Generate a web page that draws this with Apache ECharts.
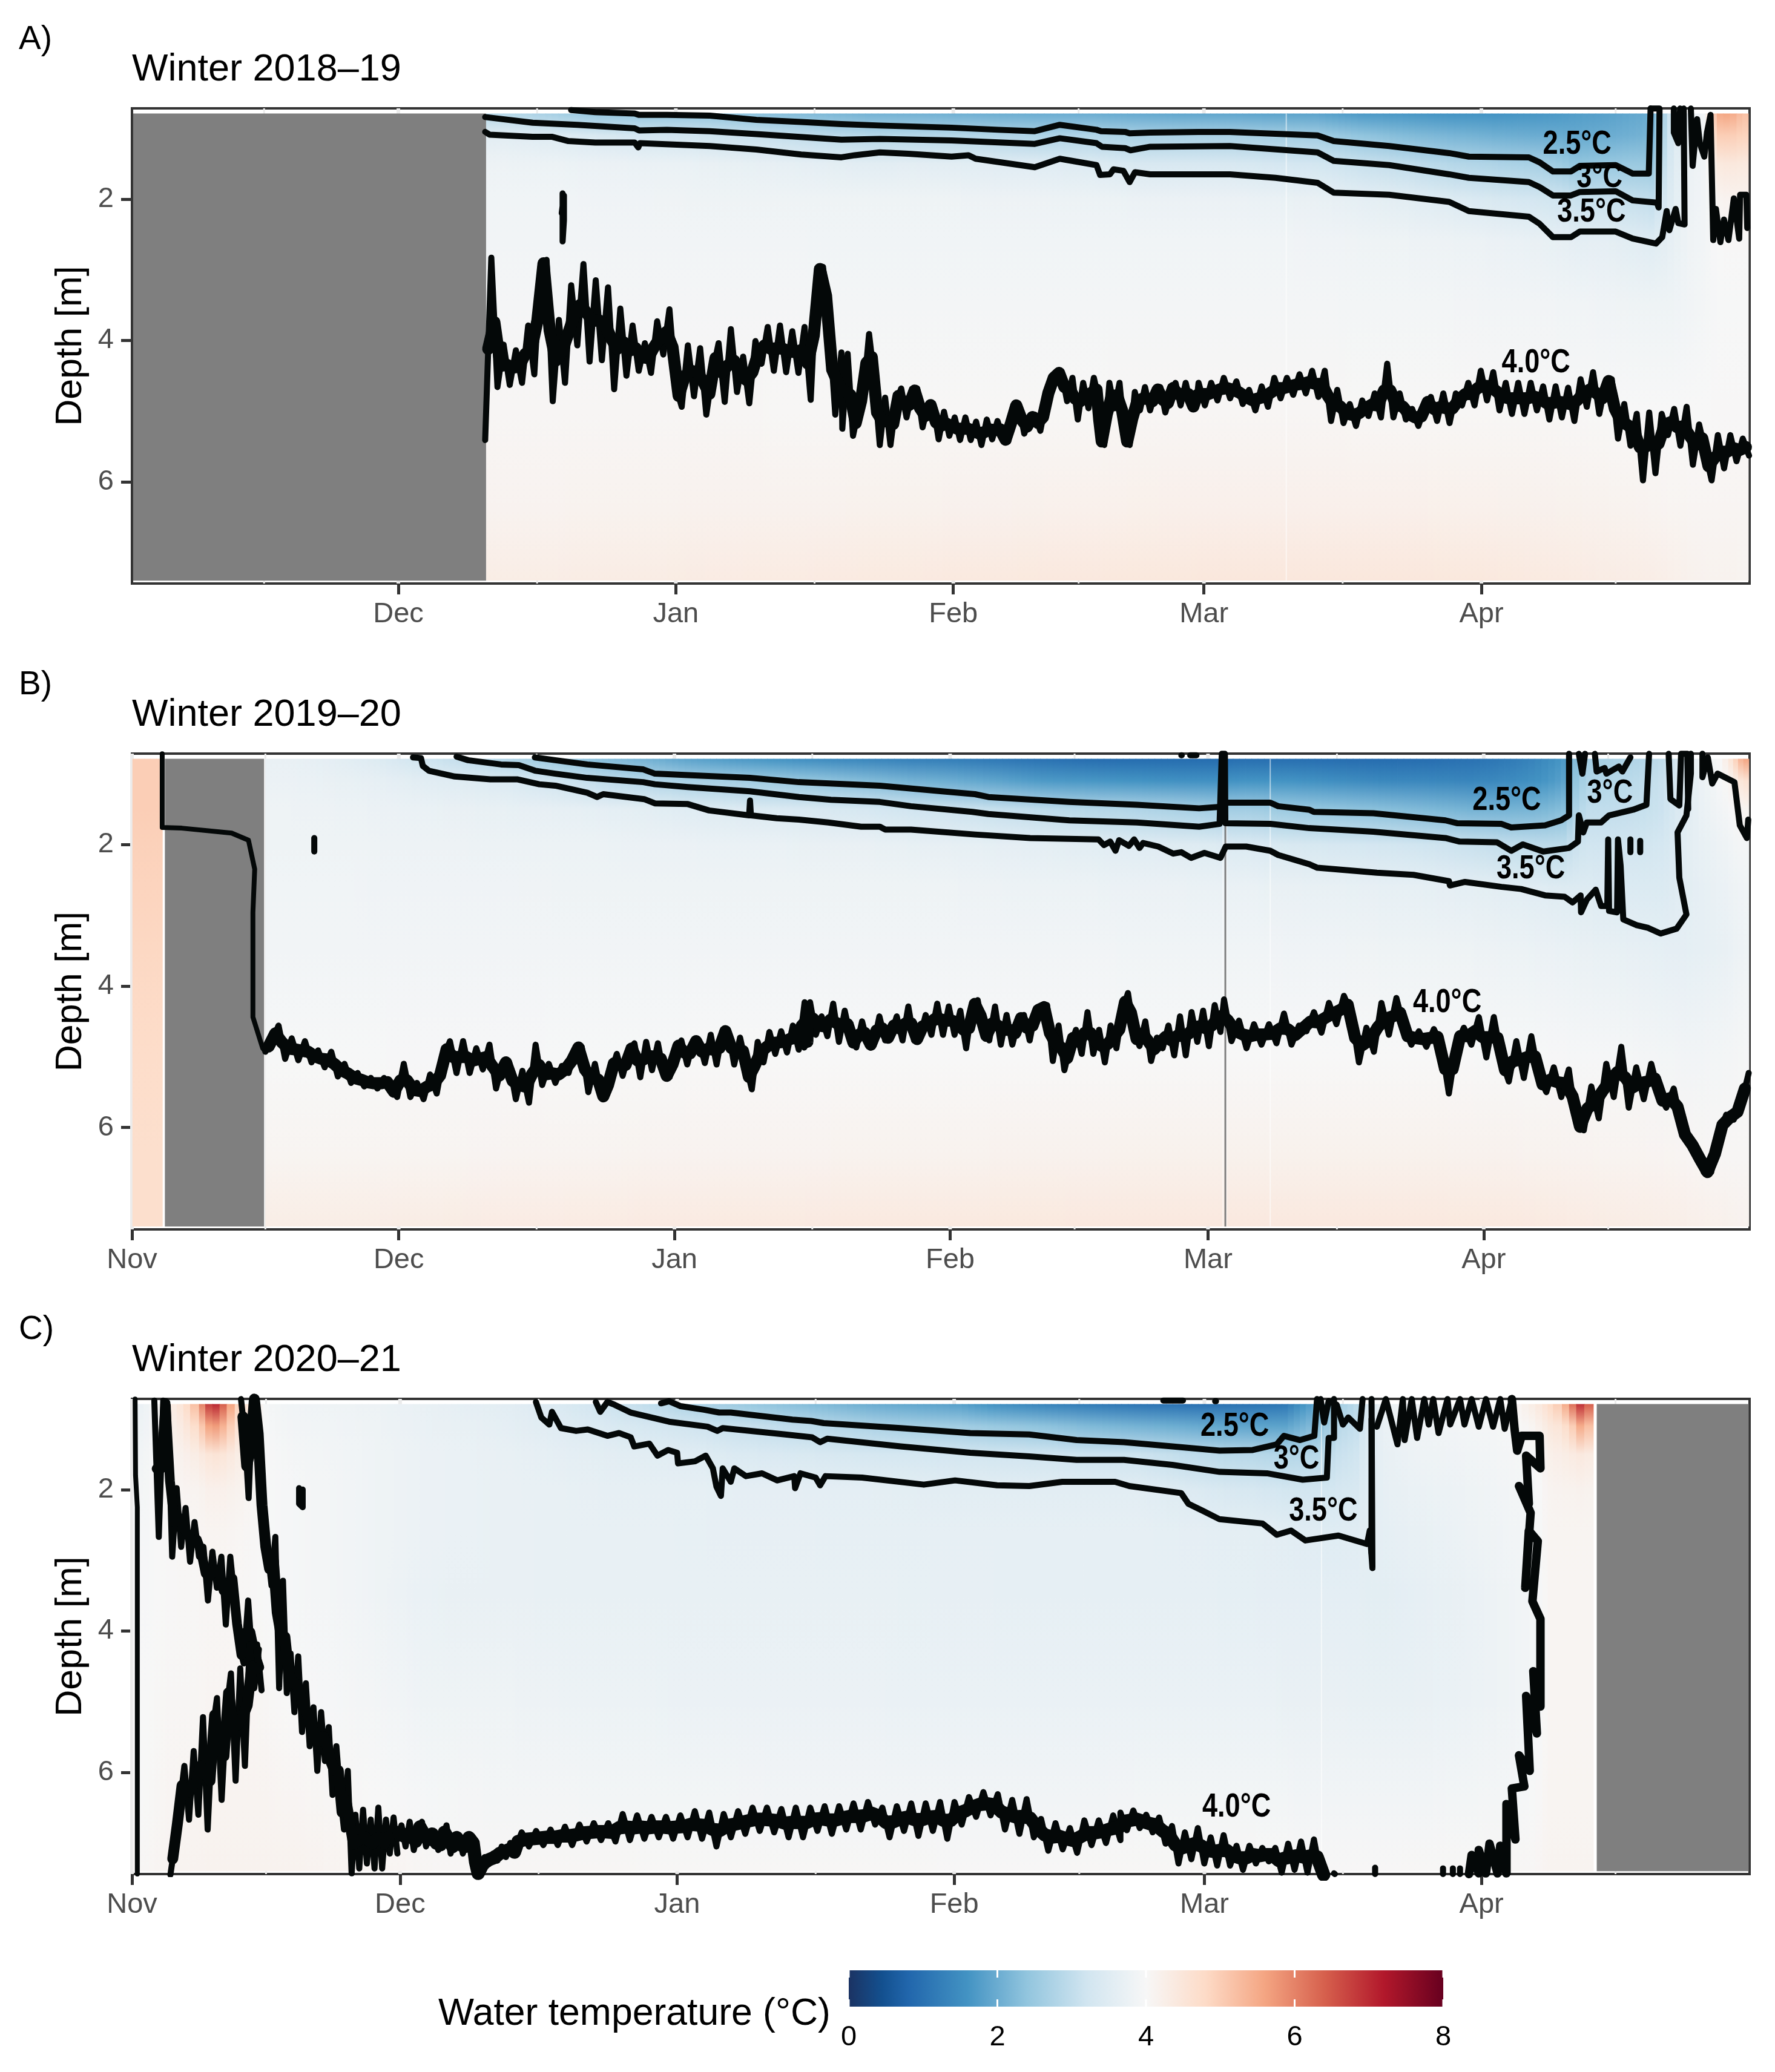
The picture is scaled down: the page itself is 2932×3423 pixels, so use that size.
<!DOCTYPE html>
<html><head><meta charset="utf-8">
<style>html,body{margin:0;padding:0;background:#fff}#c{width:2932px;height:3423px}</style>
<script src="https://cdn.jsdelivr.net/npm/echarts@6/dist/echarts.min.js"></script>
</head><body><div id="c"></div>
<script>
// ---------- colour scale ----------
const scaleValues=[0,0.45,0.8,1.6,2.4,3.2,4,4.8,5.6,6.4,7.2,8];
const scaleColors=['#1b3363','#13508f','#2166ac','#4393c3','#92c5de','#d1e5f0','#f7f7f7','#fddbc7','#f4a582','#d6604d','#b2182b','#67001f'];
const legendTicks=[0,2,4,6,8];
// ---------- axes ----------
const monthNames=['Nov','Dec','Jan','Feb','Mar','Apr'];
const depthTicks=[2,4,6];
const A_months=[30,61,92,120,151], B_months=[0,30,61,92,121,152], C_months=[0,30,61,92,120,151];
const minorDays=[15,45.5,76.5,106,135.5,166];
const depthStops=[0.79,1.1,1.5,2.0,2.6,3.5,5,6.4,7.4];
// ---------- temperature columns (start day of each column; last entry is the end) ----------
const A_days=[39.8,45,50,55,60,65,70,75,80,85,90,95,100,105,110,115,120,125,130,135,140,145,150,155,160,163,166,169,171,172.5,174,175.5,176.6,178,179.5,180.8];
const A_temps=[
[2.85,3.55,3.78,3.85,3.88,3.93,4.05,4.14,4.3],[2.65,3.45,3.76,3.85,3.88,3.93,4.05,4.14,4.3],[2.45,3.35,3.75,3.84,3.88,3.93,4.05,4.15,4.32],[2.45,3.25,3.73,3.83,3.88,3.93,4.05,4.15,4.32],
[2.45,3.2,3.72,3.82,3.87,3.93,4.05,4.16,4.33],[2.38,3.12,3.68,3.82,3.87,3.93,4.05,4.16,4.34],[2.3,3.05,3.65,3.82,3.87,3.93,4.04,4.17,4.35],[2.2,2.95,3.6,3.81,3.86,3.93,4.04,4.17,4.36],
[2.1,2.85,3.55,3.8,3.86,3.92,4.04,4.18,4.38],[2.08,2.85,3.58,3.8,3.86,3.92,4.04,4.18,4.38],[2.05,2.85,3.55,3.8,3.86,3.92,4.04,4.19,4.4],[2.02,2.8,3.52,3.79,3.85,3.92,4.04,4.19,4.4],
[2.0,2.75,3.5,3.78,3.85,3.92,4.04,4.2,4.42],[2.0,2.8,3.45,3.77,3.85,3.92,4.04,4.2,4.42],[1.95,2.7,3.35,3.75,3.85,3.92,4.05,4.21,4.44],[1.9,2.7,3.35,3.75,3.85,3.92,4.05,4.22,4.44],
[1.9,2.7,3.35,3.75,3.85,3.92,4.05,4.22,4.45],[1.85,2.65,3.3,3.72,3.85,3.92,4.05,4.22,4.45],[1.85,2.6,3.25,3.7,3.84,3.91,4.05,4.22,4.45],[1.7,2.4,3.1,3.62,3.82,3.9,4.04,4.22,4.45],
[1.65,2.25,3.0,3.55,3.8,3.9,4.04,4.22,4.45],[1.6,2.15,2.85,3.45,3.78,3.89,4.03,4.21,4.44],[1.6,2.05,2.75,3.35,3.75,3.88,4.03,4.2,4.42],[1.65,2.0,2.65,3.25,3.7,3.87,4.03,4.19,4.38],
[1.75,1.95,2.4,3.1,3.6,3.85,4.02,4.18,4.35],[1.8,2.0,2.45,3.1,3.62,3.84,4.01,4.16,4.32],[1.9,2.05,2.5,3.05,3.55,3.82,4.0,4.15,4.3],[2.0,2.15,2.5,3.0,3.5,3.8,4.0,4.12,4.28],
[3.0,3.1,3.25,3.4,3.6,3.8,4.0,4.1,4.25],[3.6,3.6,3.65,3.7,3.75,3.85,4.0,4.1,4.2],[3.8,3.8,3.8,3.82,3.85,3.88,4.0,4.08,4.18],[3.92,3.9,3.88,3.88,3.88,3.92,4.0,4.08,4.15],
[5.5,5.0,4.4,4.1,4.0,3.98,4.02,4.08,4.15],[5.6,5.0,4.45,4.15,4.02,3.98,4.02,4.08,4.15],[5.2,4.9,4.4,4.15,4.02,3.98,4.02,4.08,4.12]];
const B_days=[0.05,3.4,15,20,25,30,35,40,45,50,55,60,65,70,75,80,85,90,95,100,105,110,115,120,123.1,128,133,138,143,148,153,157,160,162,165,168,171,173.5,175.5,177.5,179.5,180.6,181.8];
const B_temps=[
[5.0,5.0,5.0,4.95,4.9,4.85,4.75,4.7,4.7],null,[3.7,3.75,3.8,3.82,3.85,3.88,3.98,4.1,4.3],[3.6,3.7,3.78,3.82,3.85,3.88,3.98,4.1,4.3],[3.45,3.65,3.75,3.8,3.84,3.88,3.98,4.1,4.3],
[3.2,3.55,3.72,3.78,3.83,3.87,3.97,4.1,4.32],[3.0,3.48,3.7,3.78,3.83,3.87,3.97,4.1,4.33],[2.75,3.4,3.67,3.77,3.83,3.87,3.97,4.11,4.34],[2.5,3.2,3.65,3.77,3.82,3.87,3.98,4.12,4.34],
[2.3,3.0,3.62,3.76,3.82,3.87,3.98,4.12,4.35],[2.1,2.85,3.58,3.75,3.82,3.87,3.98,4.13,4.36],[1.85,2.7,3.5,3.74,3.82,3.88,3.99,4.13,4.37],[1.7,2.65,3.45,3.72,3.82,3.88,3.99,4.14,4.38],
[1.6,2.55,3.4,3.72,3.82,3.88,3.99,4.14,4.38],[1.45,2.4,3.35,3.7,3.81,3.88,4.0,4.14,4.39],[1.35,2.25,3.3,3.7,3.81,3.88,4.0,4.15,4.4],[1.25,2.1,3.2,3.67,3.8,3.88,4.0,4.15,4.4],
[1.2,2.0,3.15,3.65,3.8,3.88,4.0,4.15,4.4],[1.1,1.85,3.05,3.62,3.78,3.87,4.0,4.16,4.41],[1.0,1.7,2.95,3.6,3.77,3.87,4.0,4.17,4.41],[0.92,1.65,2.85,3.55,3.76,3.87,4.0,4.17,4.42],
[0.9,1.6,2.8,3.5,3.75,3.86,4.0,4.18,4.42],[0.9,1.55,2.7,3.48,3.74,3.86,4.0,4.18,4.42],[0.9,1.55,2.6,3.45,3.72,3.86,4.0,4.18,4.42],[0.95,1.6,2.6,3.4,3.72,3.85,4.0,4.18,4.42],
[0.95,1.6,2.5,3.35,3.7,3.84,4.0,4.18,4.42],[0.92,1.5,2.4,3.3,3.68,3.83,4.0,4.18,4.42],[0.9,1.4,2.3,3.25,3.65,3.82,4.0,4.18,4.42],[0.92,1.38,2.2,3.18,3.63,3.81,4.0,4.18,4.42],
[1.0,1.35,2.1,3.1,3.6,3.8,3.99,4.17,4.41],[1.15,1.45,2.1,3.0,3.55,3.77,3.98,4.16,4.4],[1.4,1.6,2.15,2.95,3.5,3.75,3.98,4.15,4.38],[1.7,1.85,2.3,2.95,3.45,3.73,3.97,4.14,4.36],
[2.6,2.75,3.0,3.2,3.45,3.7,3.96,4.13,4.34],[2.7,2.85,3.0,3.2,3.42,3.68,3.95,4.12,4.32],[2.8,2.95,3.05,3.22,3.42,3.65,3.93,4.11,4.3],[3.0,3.1,3.15,3.3,3.42,3.62,3.9,4.1,4.28],
[3.5,3.5,3.5,3.55,3.55,3.62,3.88,4.08,4.25],[3.8,3.75,3.72,3.68,3.65,3.65,3.88,4.06,4.22],[4.0,3.95,3.88,3.78,3.72,3.68,3.9,4.05,4.2],[4.7,4.2,4.0,3.88,3.8,3.75,3.92,4.05,4.18],[5.6,4.6,4.1,3.92,3.85,3.8,3.95,4.05,4.15]];
const C_days=[0.1,2.5,5,6.5,7.5,8.2,9,9.8,10.6,11.5,12.5,14,16,20,25,30,35,40,45,50,55,60,65,70,75,80,85,90,95,100,105,110,115,120,125,128,130,132,134,136,138,142,147,152,155.5,157.8,159,160,160.8,161.6,162.5,163.5];
const C_temps=[
[3.75,3.8,3.88,3.92,3.95,3.97,3.99,4.0,4.05],[4.2,4.15,4.1,4.05,4.03,4.02,4.05,4.08,4.1],[4.6,4.4,4.2,4.1,4.05,4.03,4.05,4.1,4.12],[5.2,4.7,4.3,4.12,4.06,4.04,4.06,4.1,4.13],[6.0,5.1,4.4,4.15,4.08,4.05,4.07,4.11,4.14],
[6.8,5.6,4.5,4.2,4.1,4.05,4.08,4.12,4.15],[7.0,5.7,4.55,4.2,4.1,4.05,4.08,4.12,4.15],[6.4,5.4,4.5,4.2,4.1,4.05,4.08,4.12,4.15],[5.6,5.0,4.4,4.18,4.09,4.05,4.08,4.12,4.15],[4.9,4.6,4.3,4.15,4.07,4.04,4.08,4.12,4.15],
[4.4,4.3,4.15,4.08,4.05,4.03,4.08,4.12,4.15],[3.95,3.98,4.0,4.0,4.0,4.0,4.05,4.12,4.15],[3.85,3.88,3.92,3.95,3.95,3.95,4.0,4.08,4.15],[3.82,3.85,3.88,3.9,3.9,3.9,3.95,4.05,4.12],[3.78,3.8,3.82,3.82,3.82,3.82,3.9,4.0,4.1],
[3.7,3.72,3.75,3.75,3.75,3.72,3.82,3.95,4.06],[3.62,3.68,3.72,3.72,3.72,3.7,3.8,3.93,4.05],[3.55,3.6,3.68,3.7,3.7,3.7,3.8,3.92,4.05],[3.4,3.5,3.62,3.68,3.69,3.69,3.78,3.91,4.05],[3.2,3.4,3.58,3.65,3.68,3.68,3.76,3.9,4.05],
[3.0,3.3,3.55,3.65,3.68,3.68,3.76,3.9,4.04],[2.75,3.2,3.52,3.64,3.67,3.68,3.75,3.89,4.04],[2.55,3.1,3.42,3.62,3.66,3.68,3.75,3.89,4.03],[2.35,3.0,3.38,3.62,3.66,3.68,3.75,3.88,4.03],[2.2,2.9,3.35,3.6,3.65,3.68,3.74,3.88,4.03],
[2.0,2.75,3.3,3.6,3.65,3.68,3.74,3.88,4.03],[1.9,2.65,3.28,3.58,3.65,3.67,3.73,3.88,4.03],[1.8,2.6,3.25,3.55,3.65,3.66,3.72,3.88,4.02],[1.5,2.45,3.22,3.55,3.65,3.65,3.72,3.88,4.02],[1.3,2.35,3.2,3.55,3.65,3.65,3.72,3.88,4.02],
[1.15,2.2,3.15,3.55,3.65,3.65,3.72,3.88,4.03],[1.05,2.1,3.15,3.55,3.64,3.65,3.72,3.89,4.04],[1.0,2.0,3.0,3.45,3.62,3.64,3.72,3.89,4.04],[1.0,1.9,2.9,3.35,3.6,3.63,3.72,3.9,4.05],[1.05,1.85,2.85,3.3,3.58,3.62,3.72,3.9,4.04],
[1.1,1.85,2.8,3.25,3.55,3.62,3.71,3.89,4.03],[1.6,2.1,2.85,3.22,3.52,3.61,3.7,3.88,4.02],[2.0,2.35,2.9,3.22,3.5,3.6,3.7,3.88,4.02],[2.6,2.9,3.1,3.3,3.5,3.6,3.7,3.88,4.02],[2.9,3.05,3.2,3.35,3.52,3.6,3.69,3.88,4.02],
[3.75,3.72,3.68,3.65,3.62,3.58,3.68,3.88,4.02],[3.85,3.83,3.8,3.75,3.7,3.65,3.7,3.88,4.03],[3.92,3.9,3.85,3.8,3.78,3.72,3.75,3.9,4.04],[3.98,3.95,3.92,3.88,3.85,3.82,3.82,3.92,4.05],[4.3,4.1,3.96,3.94,3.92,3.9,3.9,3.98,4.05],
[4.7,4.4,4.2,4.12,4.1,4.08,4.08,4.1,4.12],[5.0,4.5,4.25,4.14,4.1,4.08,4.08,4.1,4.12],[5.5,4.7,4.3,4.15,4.1,4.08,4.08,4.1,4.12],[6.2,5.0,4.35,4.15,4.1,4.08,4.08,4.1,4.12],[6.9,5.5,4.4,4.16,4.1,4.08,4.08,4.1,4.12],[6.4,5.2,4.35,4.15,4.1,4.08,4.08,4.1,4.12]];
// ---------- gaps in the record ----------
const A_missing=[[0.37,39.8]], B_missing=[[3.7,14.85],[122.85,123.05]], C_missing=[[163.9,180.9]];
const A_white=[129.2], B_white=[128.0,122.7,123.1], C_white=[133.1,163.7];
// ---------- panel A isotherms ----------
const A_25=[[49.3,0.74],[52,0.77],[56.4,0.79],[56.9,0.81],[60,0.81],[64.8,0.82],[70,0.88],[75,0.91],[79.5,0.94],[83.8,0.96],[91.8,0.99],[97,1.02],[101.1,1.04],[103.9,0.95],[108,1.02],[108.5,1.04],[111.2,1.05],[111.7,1.07],[114,1.06],[119.4,1.05],[122.9,1.05],[132.7,1.10],[134.5,1.18],[140.7,1.25],[147.4,1.35],[149.6,1.40],[156.3,1.41],[157.5,1.48],[159,1.61],[161,1.61],[162,1.53],[166,1.52],[167.9,1.64],[169.7,1.64],[169.9,0.72]];
const A_30=[[39.7,0.84],[45,0.92],[50,0.95],[56.4,1.0],[56.9,1.03],[60,1.02],[64.8,1.04],[70,1.08],[79.5,1.16],[83.8,1.15],[91.8,1.17],[101.1,1.22],[103.9,1.14],[108,1.21],[108.6,1.26],[111.2,1.28],[111.8,1.31],[114,1.26],[122.9,1.25],[132.7,1.34],[134.5,1.46],[140.7,1.52],[147.4,1.65],[149.6,1.70],[156.3,1.76],[157.5,1.83],[159,1.95],[161,1.95],[162,1.90],[166,1.89],[167.9,2.02],[170.6,2.05],[170.8,2.12],[170.9,0.72],[169.9,0.72]];
const A_35=[[39.7,1.05],[40.2,1.09],[45,1.12],[47.2,1.12],[49,1.18],[52,1.2],[56.4,1.2],[56.8,1.27],[57,1.21],[64.8,1.25],[70,1.3],[75,1.37],[79.5,1.41],[81,1.38],[83.8,1.34],[87,1.36],[91.8,1.4],[93.7,1.38],[94.5,1.43],[101.1,1.55],[103.9,1.43],[108,1.52],[108.4,1.66],[109.5,1.65],[109.9,1.58],[111,1.6],[111.7,1.76],[112.3,1.62],[114,1.65],[122.9,1.65],[128,1.7],[132.7,1.77],[134.5,1.91],[140.7,1.94],[147.4,2.04],[149.6,2.17],[156.3,2.25],[157.5,2.35],[159,2.54],[161,2.54],[162,2.46],[166,2.46],[167.9,2.56],[170.5,2.63],[171.2,2.54],[171.7,2.17],[172,2.44],[172.7,2.14],[173,2.34],[173.7,2.36],[173.6,0.72]];
const A_top1=[[172.5,0.72],[172.5,1.06],[173,1.21],[173.2,0.72]];
const A_top2=[[174.4,0.72],[174.6,1.53],[175.1,0.87],[175.4,1.21],[175.9,1.4],[176.2,1.06],[176.6,0.81],[176.9,2.58],[177.2,2.14],[177.7,2.61],[178.1,2.29],[178.6,2.58],[179.2,1.99],[179.8,2.56],[179.9,1.94],[180.6,1.94],[180.7,2.41]];
const A_mark1=[[48.35,1.92],[48.35,2.6],[48.5,2.3],[48.5,1.95],[48.25,2.2]];
const A_mark2=[[60.5,2.06],[60.52,2.06]];
const A_40_runs=[
[39.7,79.5,[5.41,2.83,4.66,4.06,4.63,4.14,4.60,3.79,4.48,2.96,2.86,4.86,3.71,4.60,3.22,4.07,2.92,4.30,3.15,4.28,3.25,4.69,3.55,4.50,3.79,4.43,4.04,4.46,3.73,4.20,3.56,4.63,4.94,4.07,4.79,4.11,5.05,4.46,4.04,4.87,3.84,4.73,4.23,4.89,4.01,4.33,3.81,4.43,3.79,4.45,3.87,4.46,3.81,4.84,3.02,2.96,3.78,5.05,4.17]],
[79.6,108.3,[5.25,4.19,5.35,4.99,4.73,3.91,4.56,5.48,4.81,5.48,4.89,4.68,5.09,4.74,4.68,5.23,4.91,4.92,5.40,5.01,5.35,5.09,5.41,5.09,5.41,5.15,5.48,5.12,5.40,5.14,5.38,5.43,4.92,4.92,5.32,5.12,5.05,5.28,4.89,4.60,4.46,4.46,4.86,4.53,5.12,4.60,4.96,4.53,4.86]],
[108.3,119.1,[5.38,5.48,4.60,4.96,4.60,5.38,5.48,4.73,4.99,4.66,4.99,4.73,4.66,5.02,4.75,4.60,4.92,4.60,4.92,4.95]],
[119.4,133.5,[4.60,4.92,4.60,4.85,4.53,4.82,4.58,4.90,4.70,4.99,4.65,4.94,4.53,4.82,4.53,4.77,4.48,4.75,4.43,4.80,4.43]],
[134.2,180.9,[5.14,4.70,5.17,4.90,5.21,4.85,5.07,4.75,5.09,4.33,5.09,4.75,5.12,4.97,5.21,4.94,4.80,5.14,4.75,5.17,4.75,4.92,4.60,4.92,4.43,4.85,4.45,4.99,4.60,5.04,4.60,5.04,4.60,4.99,4.65,5.12,4.65,5.09,4.67,5.14,4.55,4.94,4.45,5.04,4.60,4.55,5.39,4.90,5.49,5.04,5.98,5.02,5.88,5.04,5.34,4.97,5.49,4.94,5.76,5.19,5.58,5.98,5.34,5.81,5.34,5.71,5.39,5.63]]];
// ---------- panel B isotherms ----------
const B_25=[[45.3,0.77],[47.6,0.81],[51.2,0.87],[57.5,0.94],[58.8,1.0],[62.5,1.02],[69.5,1.06],[75,1.12],[84.1,1.17],[91.1,1.25],[94.8,1.29],[96.3,1.33],[105.4,1.40],[113,1.44],[120,1.49],[122.3,1.47],[123,1.41],[128,1.41],[128.9,1.46],[132.4,1.51],[132.9,1.54],[139.6,1.56],[147.7,1.66],[149,1.70],[154,1.71],[155.1,1.76],[158.9,1.73],[160.7,1.66],[161.6,1.59],[161.6,0.72]];
const B_30=[[36.5,0.76],[37.8,0.81],[41.5,0.87],[43.5,0.88],[45.4,0.96],[47.6,1.0],[51.2,1.06],[57.5,1.12],[58.8,1.15],[62.5,1.19],[69.5,1.25],[75,1.33],[78.6,1.37],[84.1,1.40],[87.6,1.46],[94.5,1.54],[96.3,1.57],[105.4,1.66],[113,1.69],[120,1.75],[122.3,1.71],[122.55,0.72],[122.9,0.72],[122.95,1.70],[128,1.71],[132.4,1.77],[139.6,1.82],[147.7,1.91],[149.3,1.96],[153.5,1.97],[155.1,2.09],[156.4,2.0],[158.7,2.1],[161.6,2.05],[162.6,1.96],[162.7,1.59],[163.2,1.83],[163.6,1.69],[165.2,1.69],[166.1,1.59],[168.8,1.51],[170.3,1.44],[170.6,0.72]];
const B_35=[[31.6,0.77],[32.5,0.78],[32.7,0.89],[33.4,0.96],[36.3,1.04],[40.3,1.08],[43.3,1.08],[45.8,1.15],[47.6,1.17],[51.2,1.27],[52.3,1.33],[53,1.29],[57.6,1.36],[58.8,1.42],[62.5,1.43],[64.9,1.52],[69.4,1.59],[69.5,1.38],[69.6,1.59],[72.5,1.63],[75,1.65],[78.3,1.69],[82,1.75],[84.1,1.75],[84.7,1.79],[87.6,1.79],[94.8,1.86],[101,1.91],[108.7,1.93],[109.3,2.01],[110,1.96],[110.6,2.09],[111,1.94],[112.1,2.02],[112.7,1.93],[113.3,2.05],[113.7,1.98],[115.4,2.03],[117.1,2.13],[118,2.11],[119.1,2.19],[120.6,2.12],[122.4,2.19],[123,2.03],[125.3,2.03],[128,2.09],[128.9,2.15],[132.4,2.28],[133.3,2.33],[140,2.40],[144.1,2.43],[148.1,2.52],[148.2,2.58],[149.9,2.53],[154,2.6],[156.2,2.63],[158.9,2.72],[161.1,2.74],[162,2.82],[162.9,2.72],[162.95,2.96],[163.6,2.78],[164.6,2.64],[165.2,2.87],[165.9,2.87],[166,1.93],[166.1,2.94],[167,2.96],[167.1,1.93],[167.4,2.3],[167.7,3.06],[169.2,3.14],[170.5,3.18],[171.9,3.26],[173.7,3.19],[174.8,2.99],[174,2.47],[173.8,1.83],[174.8,1.59],[175.3,1.0],[175.3,0.72]];
const B_up=[[3.4,0.72],[3.4,1.76],[5.6,1.77],[11.2,1.84],[13.1,1.94],[13.8,2.35],[13.6,2.96],[13.6,4.44],[14.7,4.88],[15,4.93]];
const B_top1=[[162.7,0.72],[163.1,1.0],[163.4,0.72]];
const B_top2=[[164.5,0.72],[164.7,0.97],[165.6,0.92],[165.8,1.0],[167.2,0.9],[167.6,0.97],[168.5,0.77]];
const B_top3=[[172.8,0.72],[173,1.36],[174,1.45],[174.2,0.72],[174.9,0.72],[175,1.5]];
const B_top4=[[176.6,0.72],[176.6,1.05],[177.2,0.77],[177.7,1.14],[178.3,1.0],[180.2,1.12],[180.8,1.73],[181.6,1.91],[181.75,1.65]];
const B_mark1=[[20.5,1.91],[20.5,2.1]], B_mark2=[[168.5,1.93],[168.5,2.11]], B_mark3=[[169.6,1.95],[169.6,2.11]];
const B_dots=[[118,0.74],[118.05,0.74],[NaN,NaN],[119,0.74],[119.7,0.74],[NaN,NaN]];
const B_40_runs=[
[15,52.8,[4.93,4.78,4.56,5.03,4.74,5.05,4.78,5.08,4.91,5.15,4.93,5.28,5.10,5.37,5.23,5.42,5.30,5.45,5.30,5.42,5.57,5.10,5.57,5.37,5.60,5.25,5.52,5.01,4.78,5.23,4.78,5.23,4.88,5.18,4.83,5.45,5.08,5.08,5.60,5.20,5.65,4.83,5.40,5.10,5.37,5.13,5.23,4.88,4.86,5.50,5.10,5.55]],
[53.2,76.3,[5.57,5.23,4.96,5.27,4.96,4.81,5.29,4.79,5.19,4.81,5.25,5.29,4.92,4.77,5.11,4.79,4.77,5.09,4.69,5.11,4.64,4.64,5.11,4.73,5.11,5.46,4.79,5.08,4.65,4.96,4.64,4.94,4.56,4.90,4.23,4.71]],
[75.6,122.4,[4.87,4.23,4.69,4.43,4.71,4.25,4.79,4.35,4.73,4.87,4.50,4.83,4.83,4.43,4.77,4.69,4.43,4.77,4.29,4.77,4.73,4.41,4.69,4.25,4.69,4.29,4.69,4.35,4.88,4.31,4.20,4.64,4.77,4.29,4.83,4.41,4.83,4.50,4.41,4.77,4.35,4.33,4.27,5.06,4.56,5.19,4.85,4.62,4.96,4.37,4.96,4.62,5.08,4.56,4.88,4.35,4.10,4.65,4.85,4.50,5.06,4.73,4.88,4.56,4.98,4.43,4.98,4.37,4.79,4.35,4.85,4.27,4.65]],
[122.8,181.8,[4.19,4.78,4.49,4.88,4.54,4.83,4.54,4.81,4.39,4.83,4.56,4.64,4.37,4.66,4.24,4.54,4.14,4.39,5.08,4.59,4.93,4.24,4.69,4.17,4.59,4.83,4.64,4.86,4.61,4.83,5.52,4.83,4.59,4.83,4.44,5.01,4.44,5.03,5.35,4.78,5.30,4.71,5.28,5.50,5.15,5.57,5.18,5.94,6.04,5.42,5.87,5.10,5.57,4.86,5.72,5.15,5.60,5.10,5.52,5.72,5.45,5.96,6.24,6.26,6.63,6.63,6.11,5.82,5.89,5.67,5.23]]];
// ---------- panel C isotherms ----------
const C_25=[[59.2,0.78],[60.1,0.75],[61.4,0.82],[64,0.87],[65.7,0.91],[67,0.91],[73.9,1.01],[76,1.03],[77.4,1.06],[86,1.13],[93.8,1.2],[100.4,1.22],[105.7,1.30],[111,1.33],[116.4,1.39],[121.7,1.45],[125.4,1.44],[128.1,1.36],[128.9,1.24],[130.7,1.3],[132.3,1.24],[132.6,0.72]];
const C_25b=[[133,0.72],[133.4,1.05],[133.9,0.75],[134.8,0.8],[135.5,1.08],[136.1,0.98],[137.4,1.14],[137.7,0.72]];
const C_30=[[51.9,0.76],[52.4,0.9],[53.2,0.76],[54,0.8],[55.8,0.91],[60.1,1.04],[64.4,1.11],[65.5,1.17],[66.1,1.13],[73.1,1.22],[76.1,1.26],[77,1.33],[77.8,1.28],[86,1.39],[93.8,1.48],[100.4,1.53],[105.7,1.58],[111,1.58],[116.4,1.65],[121.7,1.75],[127,1.77],[131,1.86],[133.7,1.83],[133.9,1.27],[134.5,1.27],[134.5,0.72]];
const C_35=[[45.2,0.76],[45.8,0.98],[46.7,1.08],[47,0.9],[48,1.13],[49.7,1.17],[51,1.15],[53.2,1.24],[54.5,1.2],[55.8,1.26],[56.2,1.39],[57.9,1.35],[58.8,1.52],[60,1.44],[61,1.48],[61.1,1.63],[63,1.6],[64.2,1.52],[65,1.7],[65.4,1.96],[65.9,2.09],[66.1,1.70],[67,1.89],[67.4,1.70],[68.7,1.81],[70.5,1.77],[72.2,1.87],[74.1,1.81],[74.2,1.98],[74.8,1.77],[76.5,1.83],[77,1.94],[77.6,1.81],[81.7,1.83],[88.6,1.93],[92.1,1.87],[96.8,1.94],[100.4,1.95],[104.1,1.89],[110,1.89],[111.6,1.95],[117.4,2.05],[118.2,2.2],[119.8,2.3],[121.7,2.42],[126.5,2.48],[128.1,2.64],[129.7,2.58],[131.3,2.72],[135,2.65],[138.2,2.77],[138.5,2.58],[138.8,3.11],[138.7,0.72]];
const C_edge=[[0.35,0.72],[0.4,1.8],[0.6,2.25],[0.6,7.44]];
const C_comb=[[139.3,1.11],[140.3,0.72],[141.6,1.36],[142.2,0.72],[142.4,1.3],[143.2,0.72],[143.8,1.27],[144.6,0.72],[145.1,1.08],[145.6,0.72],[146.2,1.2],[147.2,0.72],[147.5,1.08],[148.6,0.72],[149.1,1.08],[149.9,0.72],[150.7,1.11],[151.5,0.72],[152.3,1.11],[153.1,0.72],[153.6,1.14],[154.4,0.72]];
const C_right=[[154.4,0.72],[154.7,1.14],[155,1.45],[155.5,1.24],[157.5,1.24],[157.6,1.70],[156,1.52],[156.3,2.2],[155.2,1.95],[156.5,2.33],[155.9,3.39],[156.3,2.58],[157.3,2.73],[156.7,3.58],[157.6,3.83],[157.6,5.07],[156.8,4.57],[157.2,5.45],[156,4.92],[156.4,5.98],[155.2,5.76],[155.8,6.2],[154.4,6.23],[154.8,6.95],[153.8,6.45],[153.8,7.43],[153.1,7.04],[152.8,7.43],[151.9,7.01],[151.5,7.43],[150.7,7.1],[150.7,7.43],[149.9,7.17],[149.6,7.44]];
const C_stubs=[[134.5,7.43],[134.6,7.44],[NaN,NaN],[139.1,7.35],[139.1,7.44],[NaN,NaN],[146.7,7.36],[146.7,7.44],[NaN,NaN],[147.8,7.36],[147.8,7.44],[NaN,NaN],[148.6,7.36],[148.6,7.44]];
const C_cut=[[138.7,1.0],[138.7,2.9]];
const C_mark=[[18.7,1.98],[18.7,2.2],[19.1,2.25],[19.1,2.0]];
const C_dots=[[115.4,0.74],[117.6,0.74],[NaN,NaN],[121.2,0.75],[121.3,0.75]];
const C_40_runs=[
[2.5,14.5,[0.74,2.67,0.74,0.81,2.95,1.98,2.81,2.26,3.02,2.46,2.95,2.81,3.57,2.88,3.39,2.95,3.91,2.95,3.57,4.22,4.46,3.57,4.46,4.19,4.84]],
[4.3,14.2,[7.45,7.0,6.46,5.91,6.67,5.7,6.6,5.22,6.81,5.43,4.95,6.39,5.15,4.6,6.12,4.53,5.91,4.19,4.81,4.26]],
[12.2,29.7,[0.72,1.22,2.12,0.72,0.72,1.70,2.74,2.88,3.36,2.67,4.81,3.29,4.88,4.32,5.15,4.36,5.43,4.74,5.63,5.08,5.98,5.15,5.84,5.36,6.32,5.63,6.32,6.81,5.98,7.43,6.6,7.36,6.53,7.29,6.67,7.36,6.5,7.36,6.67,7.15,6.64,7.15]],
[29.7,38.4,[6.95,6.75,7.05,6.7,7.1,6.85,6.7,7.05,6.85,6.9,7.1,6.95,6.75,7.15,6.95,6.9,7.15,6.95,6.9,7.1]],
[38.5,42.8,[7.44,7.42,7.2,7.3,7.15,7.25,7.05,7.2,7.0,7.15]],
[42.8,110.6,[7.11,6.85,7.05,6.83,7.03,6.81,7.03,6.77,7.03,6.74,6.98,6.72,6.96,6.72,6.98,6.59,6.96,6.61,6.94,6.63,6.92,6.63,6.94,6.61,6.92,6.55,6.94,6.57,7.05,6.59,6.92,6.55,6.87,6.50,6.83,6.50,6.85,6.52,6.92,6.50,6.92,6.50,6.83,6.48,6.87,6.48,6.81,6.44,6.81,6.42,6.74,6.50,6.92,6.48,6.83,6.44,6.90,6.44,6.83,6.42,6.94,6.42,6.74,6.35,6.63,6.28,6.61,6.31,6.81,6.39,6.87,6.38,6.92,6.66,7.11,6.72,7.09,6.79,7.14,6.68,7.03,6.68,7.0,6.61,6.96]],
[110.6,133.7,[6.57,6.82,6.54,6.79,6.60,6.85,6.64,7.01,6.76,7.29,6.85,7.23,6.79,7.29,6.92,7.32,6.89,7.32,7.04,7.38,7.04,7.29,7.07,7.26,7.07,7.42,7.01,7.38,6.98,7.42,6.95,7.45,7.45]]];
// ---------- labels: day, depth, text ----------
const A_labels=[[161.7,1.23,'2.5°C'],[164.2,1.70,'3°C'],[163.3,2.19,'3.5°C'],[157.1,4.32,'4.0°C']];
const B_labels=[[154.6,1.38,'2.5°C'],[166.2,1.28,'3°C'],[157.3,2.35,'3.5°C'],[147.9,4.24,'4.0°C']];
const C_labels=[[123.4,1.11,'2.5°C'],[130.3,1.57,'3°C'],[133.3,2.31,'3.5°C'],[123.6,6.50,'4.0°C']];

const FONT='"Liberation Sans",Arial,Helvetica,sans-serif';
const rgb=h=>[parseInt(h.slice(1,3),16),parseInt(h.slice(3,5),16),parseInt(h.slice(5,7),16)];
const scaleRgb=scaleColors.map(rgb);
function tempColor(t){
  let i=0; while(i<scaleValues.length-2&&t>scaleValues[i+1])i++;
  const f=Math.min(1,Math.max(0,(t-scaleValues[i])/(scaleValues[i+1]-scaleValues[i])));
  const a=scaleRgb[i],b=scaleRgb[i+1];
  return `rgb(${a.map((v,k)=>Math.round(v+(b[k]-v)*f)).join(',')})`;
}
function runPoints(run){
  const [s,e,v]=run;
  return v.map((d,i)=>[s+(e-s)*i/(v.length-1),d]);
}
// centre of the band: midway between each neighbouring pair of readings
function corePoints(pts){
  const out=[];
  for(let i=0;i+1<pts.length;i++) out.push([(pts[i][0]+pts[i+1][0])/2,(pts[i][1]+pts[i+1][1])/2]);
  return out;
}
const panels=[
 {top:179,height:785,min:0.24,max:180.96,months:A_months,title:'Winter 2018–19',letter:'A)',titleY:119,letterY:67,
  days:A_days,temps:A_temps,missing:A_missing,white:A_white,labels:A_labels,
  lines:[A_25,A_30,A_35,A_top1,A_top2,A_mark1,A_mark2],thin:[],thick:[],runs:A_40_runs,joined:[[0,1,2,3,4]],core:[20]},
 {top:1245,height:786,min:0,max:181.9,months:B_months,title:'Winter 2019–20',letter:'B)',titleY:1185,letterY:1133,
  days:B_days,temps:B_temps,missing:B_missing,white:B_white,labels:B_labels,
  lines:[B_25,B_30,B_35,B_up,B_top1,B_top2,B_top3,B_top4,B_mark1,B_mark2,B_mark3,B_dots],thin:[B_up],thick:[],runs:B_40_runs,joined:[[0,1,2,3]],core:[20]},
 {top:2311,height:785,min:0,max:181,months:C_months,title:'Winter 2020–21',letter:'C)',titleY:2251,letterY:2198,
  days:C_days,temps:C_temps,missing:C_missing,white:C_white,labels:C_labels,
  lines:[C_25,C_25b,C_30,C_35,C_edge,C_comb,C_right,C_stubs,C_cut,C_mark,C_dots],thin:[C_edge],thick:[C_right],runs:C_40_runs,joined:[[0],[1],[2],[3,4,5,6]],core:[16,18,18,22]}
];
const LEFT=218,WIDTH=2672,RTOP=0.79,RBOT=7.4;
const grids=[],xAxes=[],yAxes=[],series=[],titles=[];
panels.forEach((p,i)=>{
  grids.push({left:LEFT,width:WIDTH,top:p.top,height:p.height,show:true,backgroundColor:'#fff',borderColor:'#333333',borderWidth:4});
  const names=p.months.map((d,k)=>monthNames[monthNames.length-p.months.length+k]);
  xAxes.push({gridIndex:i,type:'value',min:p.min,max:p.max,splitLine:{show:false},
    axisLine:{show:true,onZero:false,lineStyle:{color:'#333333',width:4}},
    axisTick:{show:true,length:18,lineStyle:{color:'#333333',width:5},customValues:p.months},
    axisLabel:{show:true,customValues:p.months,margin:28,color:'#4d4d4d',fontSize:47,fontFamily:FONT,
      formatter:v=>names[p.months.indexOf(v)]||''}});
  yAxes.push({gridIndex:i,type:'value',inverse:true,min:0.717,max:7.44,splitLine:{show:false},
    name:'Depth [m]',nameLocation:'middle',nameRotate:90,nameGap:70,
    nameTextStyle:{color:'#000',fontSize:61,fontFamily:FONT},
    axisLine:{show:true,onZero:false,lineStyle:{color:'#333333',width:4}},
    axisTick:{show:true,length:18,lineStyle:{color:'#333333',width:5},customValues:depthTicks},
    axisLabel:{show:true,customValues:depthTicks,margin:30,color:'#4d4d4d',fontSize:47,fontFamily:FONT}});
  titles.push({text:p.title,left:LEFT,top:p.titleY-35,padding:0,textStyle:{color:'#000',fontSize:63,fontWeight:'normal',fontFamily:FONT}});
  titles.push({text:p.letter,left:31,top:p.letterY-29,padding:0,textStyle:{color:'#000',fontSize:55,fontWeight:'normal',fontFamily:FONT}});
  const gridDays=[...p.months.map(d=>[d,6]),...minorDays.map(d=>[d,3])];
  series.push({type:'custom',xAxisIndex:i,yAxisIndex:i,z:1,silent:true,data:gridDays,
    renderItem:(params,api)=>{const a=api.coord([api.value(0),0.717]),b=api.coord([api.value(0),7.44]);
      return {type:'line',shape:{x1:a[0],y1:a[1],x2:b[0],y2:b[1]},style:{stroke:'#ebebeb',lineWidth:api.value(1)}};}});
  // temperature columns; each is shaded smoothly towards its neighbours when drawn
  series.push({type:'custom',xAxisIndex:i,yAxisIndex:i,z:2,silent:true,
    data:p.temps.map((t,k)=>[p.days[k],p.days[k+1],RTOP,RBOT]),
    encode:{x:[0,1],y:[2,3]},
    renderItem:(params,api)=>{
      const k=params.dataIndex,t=p.temps[k]; if(!t)return null;
      const prev=p.temps[k-1],next=p.temps[k+1];
      const a=api.coord([api.value(0),RTOP]),b=api.coord([api.value(1),RBOT]);
      const w=b[0]-a[0],n=Math.max(1,Math.round(w/10)),children=[];
      for(let s=0;s<n;s++){
        const f=(s+0.5)/n;
        const other=f<0.5?prev:next,wt=other?Math.abs(f-0.5):0;
        const stops=t.map((v,j)=>{
          const val=other?v+(other[j]-v)*wt:v;
          return {offset:(depthStops[j]-RTOP)/(RBOT-RTOP),color:tempColor(val)};
        });
        children.push({type:'rect',shape:{x:a[0]+w*s/n,y:a[1],width:w/n+0.8,height:b[1]-a[1]},
          style:{fill:new echarts.graphic.LinearGradient(0,0,0,1,stops)}});
      }
      return {type:'group',children};
    }});
  series.push({type:'custom',xAxisIndex:i,yAxisIndex:i,z:3,silent:true,data:p.white.map(d=>[d]),
    renderItem:(params,api)=>{const a=api.coord([api.value(0),RTOP]),b=api.coord([api.value(0),RBOT]);
      return {type:'line',shape:{x1:a[0],y1:a[1],x2:b[0],y2:b[1]},style:{stroke:'#ffffff',lineWidth:2,opacity:0.55}};}});
  series.push({type:'custom',xAxisIndex:i,yAxisIndex:i,z:4,silent:true,data:p.missing,
    encode:{x:[0,1]},
    renderItem:(params,api)=>{const a=api.coord([api.value(0),RTOP]),b=api.coord([api.value(1),RBOT]);
      return {type:'rect',shape:{x:a[0],y:a[1],width:b[0]-a[0],height:b[1]-a[1]},style:{fill:'#7f7f7f'}};}});
  // isotherms
  const lineStyle={color:'#040808',width:10,cap:'round',join:'round'};
  const lineDefaults={type:'line',xAxisIndex:i,yAxisIndex:i,z:6,silent:true,showSymbol:false,symbol:'none',smooth:false,connectNulls:false,clip:true,lineStyle};
  p.lines.forEach(l=>series.push({...lineDefaults,data:l,lineStyle:{...lineStyle,width:p.thick.includes(l)?14:(p.thin.includes(l)?8:10)}}));
  p.joined.forEach((group,gi)=>{
    const pts=[]; group.forEach(g=>pts.push(...runPoints(p.runs[g])));
    series.push({...lineDefaults,data:pts,lineStyle:{...lineStyle,width:10}});
    series.push({...lineDefaults,data:corePoints(pts),lineStyle:{...lineStyle,width:p.core[gi]}});
  });
  series.push({type:'custom',xAxisIndex:i,yAxisIndex:i,z:8,silent:true,data:p.labels.map(l=>[l[0],l[1]]),
    renderItem:(params,api)=>{const c=api.coord([api.value(0),api.value(1)]);
      return {type:'text',x:c[0],y:c[1],scaleX:0.82,style:{x:0,y:0,text:p.labels[params.dataIndex][2],fill:'#000',align:'center',verticalAlign:'middle',
        font:'bold 55px "Liberation Sans",sans-serif'}};}});
});
// colour bar
grids.push({left:1402,width:982,top:3255,height:60,show:false});
xAxes.push({gridIndex:3,type:'value',min:0,max:8,splitLine:{show:false},axisLine:{show:false},axisTick:{show:false},
  axisLabel:{show:true,customValues:legendTicks,margin:28,color:'#000',fontSize:47,fontFamily:FONT}});
yAxes.push({gridIndex:3,type:'value',min:0,max:1,show:false});
series.push({type:'custom',xAxisIndex:3,yAxisIndex:3,z:2,silent:true,data:[[0,8,0,1]],encode:{x:[0,1],y:[2,3]},
  renderItem:(params,api)=>{const a=api.coord([0,1]),b=api.coord([8,0]);
    return {type:'rect',shape:{x:a[0],y:a[1],width:b[0]-a[0],height:b[1]-a[1]},
      style:{fill:new echarts.graphic.LinearGradient(0,0,1,0,scaleValues.map((v,j)=>({offset:v/8,color:scaleColors[j]})))}};}});
series.push({type:'custom',xAxisIndex:3,yAxisIndex:3,z:3,silent:true,data:legendTicks.map(v=>[v]),
  renderItem:(params,api)=>{const a=api.coord([api.value(0),1]),b=api.coord([api.value(0),0]);
    return {type:'group',children:[
      {type:'line',shape:{x1:a[0],y1:a[1],x2:a[0],y2:a[1]+12},style:{stroke:'#fff',lineWidth:3}},
      {type:'line',shape:{x1:b[0],y1:b[1]-12,x2:b[0],y2:b[1]},style:{stroke:'#fff',lineWidth:3}}]};}});
titles.push({text:'Water temperature (°C)',left:724,top:3296,padding:0,textStyle:{color:'#000',fontSize:62.5,fontWeight:'normal',fontFamily:FONT}});

const chart=echarts.init(document.getElementById('c'),null,{renderer:'canvas',width:2932,height:3423});
chart.setOption({animation:false,backgroundColor:'#ffffff',title:titles,grid:grids,xAxis:xAxes,yAxis:yAxes,series});
</script></body></html>
